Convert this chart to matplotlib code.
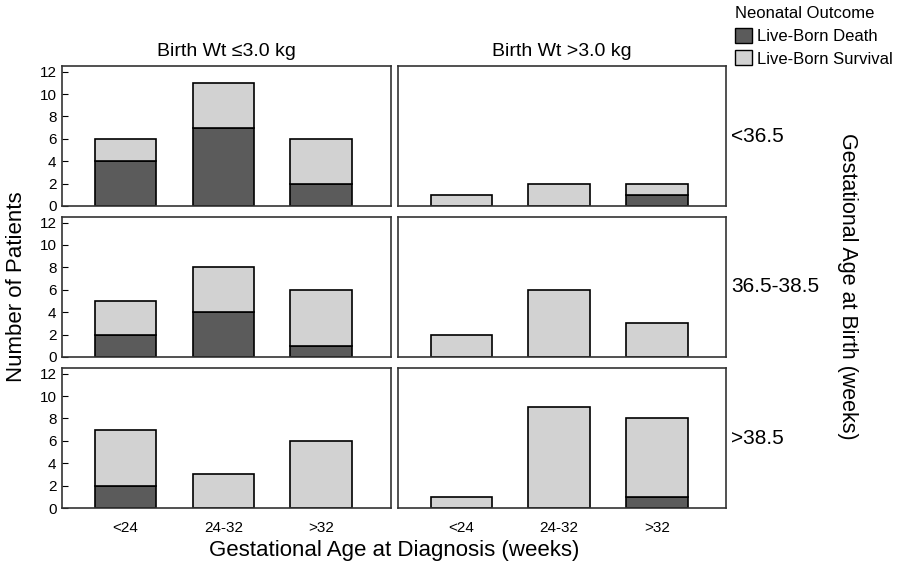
import matplotlib.pyplot as plt
from matplotlib.patches import Patch

plt.rcParams['font.family'] = ['Liberation Sans', 'DejaVu Sans']

diag_groups = ['<24', '24-32', '>32']
birth_ga = ['<36.5', '36.5-38.5', '>38.5']
weight_groups = ['Birth Wt \u22643.0 kg', 'Birth Wt >3.0 kg']

# deaths / survivals per [weight][birth GA row][diagnosis group]
death_light = [[4, 7, 2], [2, 4, 1], [2, 0, 0]]
surv_light = [[2, 4, 4], [3, 4, 5], [5, 3, 6]]
death_heavy = [[0, 0, 1], [0, 0, 0], [0, 0, 1]]
surv_heavy = [[1, 2, 1], [2, 6, 3], [1, 9, 7]]

deaths = [death_light, death_heavy]
survs = [surv_light, surv_heavy]

dark = '#5b5b5b'
light = '#d2d2d2'

fig = plt.figure(figsize=(9, 5.73), dpi=100)

lefts = [0.069, 0.442]
bottoms = [0.6405, 0.377, 0.1134]
w, h = 0.365, 0.2443

x = list(range(len(diag_groups)))
for c in range(2):
    for r in range(3):
        ax = fig.add_axes([lefts[c], bottoms[r], w, h])
        d = deaths[c][r]
        s = survs[c][r]
        ax.bar(x, d, width=0.63, color=dark, edgecolor='black', linewidth=1.2, zorder=2)
        ax.bar(x, s, width=0.63, bottom=d, color=light, edgecolor='black', linewidth=1.2, zorder=2)
        ax.set_xlim(-0.65, 2.71)
        ax.set_ylim(0, 12.5)
        for sp in ax.spines.values():
            sp.set_color('#333333')
            sp.set_linewidth(1.2)
        if c == 0:
            ax.set_yticks(range(0, 13, 2))
            ax.tick_params(axis='y', direction='in', length=4, labelsize=11, pad=4)
        else:
            ax.set_yticks([])
        ax.set_xticks(x)
        if r == 2:
            ax.set_xticklabels(diag_groups, fontsize=11)
            ax.tick_params(axis='x', length=0, pad=9)
        else:
            ax.tick_params(axis='x', length=0, labelbottom=False)
        if r == 0:
            ax.set_title(weight_groups[c], fontsize=14, pad=7)
        if c == 1:
            ax.text(1.015, 0.5, birth_ga[r], transform=ax.transAxes, fontsize=15,
                    ha='left', va='center')

fig.text(0.018, 0.5, 'Number of Patients', rotation=90, fontsize=16, ha='center', va='center')
fig.text(0.942, 0.5, 'Gestational Age at Birth (weeks)', rotation=-90, fontsize=15.5,
         ha='center', va='center')
fig.text(0.438, 0.04, 'Gestational Age at Diagnosis (weeks)', fontsize=16, ha='center', va='center')

handles = [Patch(facecolor=dark, edgecolor='black', label='Live-Born Death'),
           Patch(facecolor=light, edgecolor='black', label='Live-Born Survival')]
leg = fig.legend(handles=handles, title='Neonatal Outcome', loc='upper right',
                 bbox_to_anchor=(1.005, 1.01), frameon=False, fontsize=12, title_fontsize=12,
                 handlelength=1.0, handleheight=1.0, handletextpad=0.3, labelspacing=0.4,
                 borderaxespad=0.3)
leg._legend_box.align = 'left'

fig.savefig('out.png', dpi=100)
